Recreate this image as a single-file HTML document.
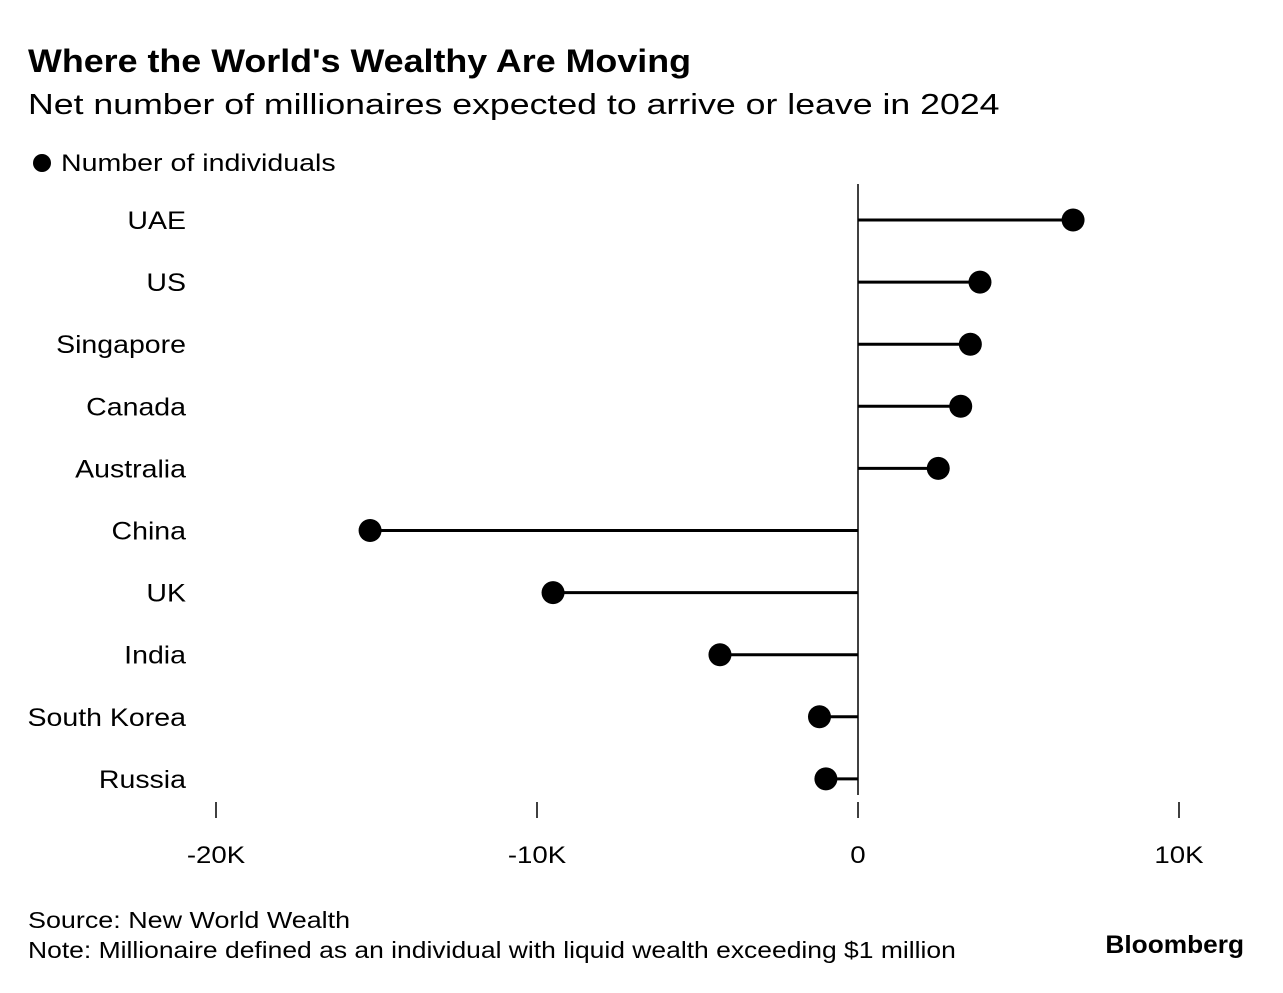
<!DOCTYPE html>
<html><head><meta charset="utf-8">
<style>
html,body{margin:0;padding:0;background:#fff;}
body{width:1283px;height:988px;overflow:hidden;font-family:"Liberation Sans",sans-serif;color:#000;}
</style></head>
<body>
<svg id="chart" width="1283" height="988" xmlns="http://www.w3.org/2000/svg" style="font-family:'Liberation Sans',sans-serif">
  <text x="28" y="72" font-size="32" font-weight="bold" data-stretch="1.12">Where the World's Wealthy Are Moving</text>
  <text x="28" y="114" font-size="29" data-stretch="1.23">Net number of millionaires expected to arrive or leave in 2024</text>
  <g>
    <circle cx="42" cy="163" r="9" fill="#000"></circle>
    <text x="61" y="171" font-size="24" data-stretch="1.19">Number of individuals</text>
  </g>
  <g id="plot"></g>
  <text x="28" y="928" font-size="23" data-stretch="1.17">Source: New World Wealth</text>
  <text x="28" y="958" font-size="23" data-stretch="1.15">Note: Millionaire defined as an individual with liquid wealth exceeding $1 million</text>
  <text x="1244" y="953" font-size="25" font-weight="bold" text-anchor="end" data-stretch="1.05">Bloomberg</text>
</svg>
<script>
const categories = ["UAE","US","Singapore","Canada","Australia","China","UK","India","South Korea","Russia"];
const values = [6700,3800,3500,3200,2500,-15200,-9500,-4300,-1200,-1000];
const tickValues = [-20000,-10000,0,10000];
const tickLabels = ["-20K","-10K","0","10K"];

const NS="http://www.w3.org/2000/svg";
const g=document.getElementById('plot');
function x(v){return 858+(v/10000)*321;}
function y(i){return 220+i*62.1;}
function mk(tag,attrs){const e=document.createElementNS(NS,tag);for(const k in attrs)e.setAttribute(k,attrs[k]);g.appendChild(e);return e;}

const zl=mk('line',{x1:x(0),x2:x(0),y1:184,y2:795,stroke:'#000','stroke-width':1.5});



tickValues.forEach((t,i)=>{
  const tk=mk('line',{x1:x(t),x2:x(t),y1:802,y2:818,stroke:'#000','stroke-width':1.5});
  
  
  const tl=mk('text',{x:x(t),y:863,'font-size':24,'text-anchor':'middle','data-stretch':'1.15'});
  tl.textContent=tickLabels[i];
  
  
});

categories.forEach((c,i)=>{
  const lb=mk('text',{x:186,y:y(i)+9,'font-size':25,'text-anchor':'end','data-stretch':'1.14'});
  lb.textContent=c;
  
  
  const st=mk('line',{x1:x(0),x2:x(values[i]),y1:y(i),y2:y(i),stroke:'#000','stroke-width':3});
  
  
  const dt=mk('circle',{cx:x(values[i]),cy:y(i),r:11.5,fill:'#000'});
  
  
});

document.querySelectorAll('text[data-stretch]').forEach(t=>{
  const f=parseFloat(t.getAttribute('data-stretch'));
  const w=t.getComputedTextLength();
  t.setAttribute('textLength',(w*f).toFixed(1));
  t.setAttribute('lengthAdjust','spacingAndGlyphs');
});
</script>
</body></html>
